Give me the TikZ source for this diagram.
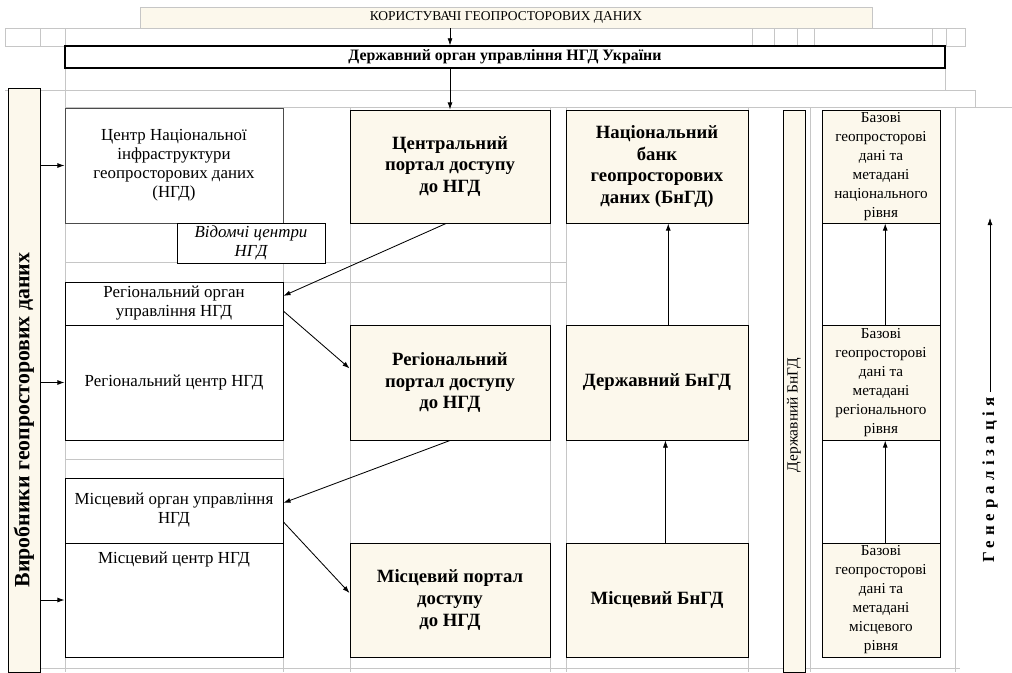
\documentclass[tikz,border=0pt]{standalone}
\usepackage{fontspec}
\setmainfont{Liberation Serif}
\usetikzlibrary{arrows.meta, positioning}

\definecolor{cream}{HTML}{FCF8EC}
\definecolor{gridgray}{HTML}{C6C6C6}

\tikzset{
  dims/.style 2 args={minimum width=#1*0.025cm, minimum height=#2*0.025cm},
  cell/.style={draw, line width=0.7pt, inner sep=0pt, align=center,
    font=\fontsize{12}{13.5}\selectfont},
  portal/.style={cell, fill=cream, font=\bfseries\fontsize{13.3}{15.5}\selectfont},
  base/.style={cell, fill=cream, font=\fontsize{10.8}{13.5}\selectfont},
  gridline/.style={draw=gridgray, line width=0.6pt},
}

\begin{document}
\begin{tikzpicture}[x=0.025cm, y=-0.025cm, >={Latex[length=5pt,width=3.5pt]}]
\useasboundingbox (0,0) rectangle (1012,672);

% Table grid behind the boxes
\draw[gridline] (5,28) rectangle (965,46);
\foreach \gx in {40,65,752,774,797,814,932,946}
  \draw[gridline] (\gx,28) -- (\gx,46);
\draw[gridline] (65,68) -- (65,90);
\draw[gridline] (945,68) -- (945,90);
\draw[gridline] (5,90) -- (975,90) -- (975,107);
\draw[gridline] (65,90) -- (65,107);
\draw[gridline] (65,107) -- (1012,107);
\foreach \gx in {65,283,350,550,566,748,810,955}
  \draw[gridline] (\gx,107) -- (\gx,672);
\draw[gridline] (65,262) -- (566,262);
\draw[gridline] (65,282) -- (566,282);
\draw[gridline] (65,459) -- (283,459);
\draw[gridline] (40,668) -- (960,668);

% Top levels
\node[cell, draw=gridgray, fill=cream, dims={732}{21},
  font=\fontsize{9.6}{11}\selectfont] (users) at (506,17.5) {КОРИСТУВАЧІ ГЕОПРОСТОРОВИХ ДАНИХ};
\node[cell, line width=1pt, fill=white, dims={880}{22},
  font=\bfseries\fontsize{11.3}{13}\selectfont] (gov) at (505,57) {Державний орган управління НГД України};

% Producers
\node[cell, fill=cream, dims={32}{584}] (prod) at (24,380) {};
\node[rotate=90, font=\bfseries\fontsize{15.5}{17}\selectfont] (prodlbl) at (24,420)
  {Виробники геопросторових даних};

% Centres and bodies
\node[cell, draw=black!70, fill=white, dims={218}{115}] (cnc) at (174,165.5)
  {Центр Національної\\інфраструктури\\геопросторових даних\\(НГД)};
\node[cell, fill=white, dims={148}{40}, font=\itshape\fontsize{12}{13.5}\selectfont] (dept) at (251,243)
  {Відомчі центри\\НГД};
\node[cell, fill=white, dims={218}{43}] (rorg) at (174,303.5) {Регіональний орган\\управління НГД};
\node[cell, fill=white, dims={218}{115}] (rcen) at (174,382.5) {Регіональний центр НГД};
\node[cell, fill=white, dims={218}{65}] (lorg) at (174,510.5) {Місцевий орган управління\\НГД};
\node[cell, fill=white, dims={218}{114}] (lcen) at (174,600) {};
\node[font=\fontsize{12}{13.5}\selectfont, below=3pt of lcen.north] (lcenlbl) {Місцевий центр НГД};

% Portals
\node[portal, dims={200}{113}] (cport) at (450,166.5) {Центральний\\портал доступу\\до НГД};
\node[portal, dims={200}{115}] (rport) at (450,382.5) {Регіональний\\портал доступу\\до НГД};
\node[portal, dims={200}{114}] (lport) at (450,600) {Місцевий портал\\доступу\\до НГД};

% Data banks
\node[portal, dims={182}{113}] (nbank) at (657,166.5) {Національний\\банк\\геопросторових\\даних (БнГД)};
\node[portal, dims={182}{115}] (sbank) at (657,382.5) {Державний БнГД};
\node[portal, dims={182}{114}] (lbank) at (657,600) {Місцевий БнГД};
\node[cell, fill=cream, dims={22}{562}] (sbankv) at (794,391) {};
\node[rotate=90, font=\fontsize{11}{13}\selectfont] (sbankvlbl) at (794,415) {Державний БнГД};

% Base data levels
\node[base, dims={118}{113}] (nbase) at (881,166.5)
  {Базові\\геопросторові\\дані та\\метадані\\національного\\рівня};
\node[cell, fill=white, dims={118}{102}] (gap1) at (881,274) {};
\node[base, dims={118}{115}] (rbase) at (881,382.5)
  {Базові\\геопросторові\\дані та\\метадані\\регіонального\\рівня};
\node[cell, fill=white, dims={118}{103}] (gap2) at (881,491.5) {};
\node[base, dims={118}{114}] (lbase) at (881,600)
  {Базові\\геопросторові\\дані та\\метадані\\місцевого\\рівня};

% Generalization
\node[rotate=90, font=\bfseries\fontsize{12}{14}\selectfont\addfontfeatures{LetterSpace=30}]
  (genlbl) at (990,480) {Генералізація};
\coordinate (gentop) at (990,218);
\draw[->] (genlbl.east) -- (gentop);

% Links
\draw[->] (users.south -| cport.north) -- (gov.north -| cport.north);
\draw[->, semithick] (gov.south -| cport.north) -- (cport.north);
\draw[->, semithick] (prod.east |- cnc.west) -- (cnc.west);
\draw[->, semithick] (prod.east |- rcen.west) -- (rcen.west);
\draw[->, semithick] (prod.east |- lcen.west) -- (lcen.west);
\draw[->, semithick] (cport.266) -- (rorg.4);
\draw[->, semithick] (rorg.-4) -- (rport.172);
\draw[->, semithick] (rport.south) -- (lorg.4);
\draw[->, semithick] (lorg.-6) -- (lport.176);
\draw[->, semithick] ([xshift=8pt]sbank.north) -- ([xshift=8pt]nbank.south);
\draw[->] ([xshift=6pt]lbank.north) -- ([xshift=6pt]sbank.south);
\draw[->, semithick] ([xshift=3pt]lbase.north) -- ([xshift=3pt]rbase.south);
\draw[->, semithick] ([xshift=3pt]gap1.south) -- ([xshift=3pt]nbase.south);
\end{tikzpicture}
\end{document}
